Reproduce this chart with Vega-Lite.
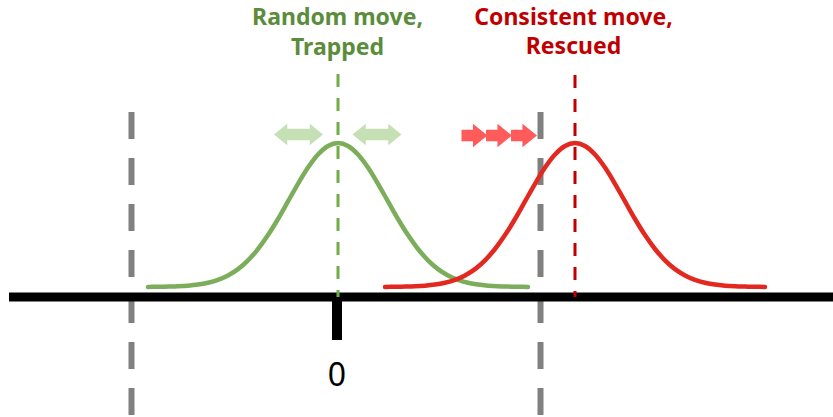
{
  "$schema": "https://vega.github.io/schema/vega-lite/v6.json",
  "autosize": {"type": "none"},
  "width": 833,
  "height": 417,
  "padding": 0,
  "background": "white",
  "config": {"view": {"stroke": null}},
  "resolve": {"scale": {"color": "independent"}},
  "datasets": {
    "bounds": [
      {"x": -2.065, "y": 1.85, "y2": -1.2},
      {"x": 2.025, "y": 1.85, "y2": -1.2}
    ],
    "curves": [
      {"s": "green", "x": -1.9, "y": 0.101}, {"s": "green", "x": -1.8, "y": 0.102}, {"s": "green", "x": -1.7, "y": 0.104}, {"s": "green", "x": -1.6, "y": 0.107}, {"s": "green", "x": -1.5, "y": 0.113},
      {"s": "green", "x": -1.4, "y": 0.124}, {"s": "green", "x": -1.3, "y": 0.143}, {"s": "green", "x": -1.2, "y": 0.172}, {"s": "green", "x": -1.1, "y": 0.216}, {"s": "green", "x": -1.0, "y": 0.279},
      {"s": "green", "x": -0.9, "y": 0.367}, {"s": "green", "x": -0.8, "y": 0.48}, {"s": "green", "x": -0.7, "y": 0.619}, {"s": "green", "x": -0.6, "y": 0.78}, {"s": "green", "x": -0.5, "y": 0.956},
      {"s": "green", "x": -0.4, "y": 1.132}, {"s": "green", "x": -0.3, "y": 1.294}, {"s": "green", "x": -0.2, "y": 1.425}, {"s": "green", "x": -0.1, "y": 1.51}, {"s": "green", "x": 0.0, "y": 1.54},
      {"s": "green", "x": 0.1, "y": 1.51}, {"s": "green", "x": 0.2, "y": 1.425}, {"s": "green", "x": 0.3, "y": 1.294}, {"s": "green", "x": 0.4, "y": 1.132}, {"s": "green", "x": 0.5, "y": 0.956},
      {"s": "green", "x": 0.6, "y": 0.78}, {"s": "green", "x": 0.7, "y": 0.619}, {"s": "green", "x": 0.8, "y": 0.48}, {"s": "green", "x": 0.9, "y": 0.367}, {"s": "green", "x": 1.0, "y": 0.279},
      {"s": "green", "x": 1.1, "y": 0.216}, {"s": "green", "x": 1.2, "y": 0.172}, {"s": "green", "x": 1.3, "y": 0.143}, {"s": "green", "x": 1.4, "y": 0.124}, {"s": "green", "x": 1.5, "y": 0.113},
      {"s": "green", "x": 1.6, "y": 0.107}, {"s": "green", "x": 1.7, "y": 0.104}, {"s": "green", "x": 1.8, "y": 0.102}, {"s": "green", "x": 1.9, "y": 0.101},
      {"s": "red", "x": 0.47, "y": 0.101}, {"s": "red", "x": 0.57, "y": 0.102}, {"s": "red", "x": 0.67, "y": 0.104}, {"s": "red", "x": 0.77, "y": 0.107}, {"s": "red", "x": 0.87, "y": 0.113},
      {"s": "red", "x": 0.97, "y": 0.124}, {"s": "red", "x": 1.07, "y": 0.143}, {"s": "red", "x": 1.17, "y": 0.172}, {"s": "red", "x": 1.27, "y": 0.216}, {"s": "red", "x": 1.37, "y": 0.279},
      {"s": "red", "x": 1.47, "y": 0.367}, {"s": "red", "x": 1.57, "y": 0.48}, {"s": "red", "x": 1.67, "y": 0.619}, {"s": "red", "x": 1.77, "y": 0.78}, {"s": "red", "x": 1.87, "y": 0.956},
      {"s": "red", "x": 1.97, "y": 1.132}, {"s": "red", "x": 2.07, "y": 1.294}, {"s": "red", "x": 2.17, "y": 1.425}, {"s": "red", "x": 2.27, "y": 1.51}, {"s": "red", "x": 2.37, "y": 1.54},
      {"s": "red", "x": 2.47, "y": 1.51}, {"s": "red", "x": 2.57, "y": 1.425}, {"s": "red", "x": 2.67, "y": 1.294}, {"s": "red", "x": 2.77, "y": 1.132}, {"s": "red", "x": 2.87, "y": 0.956},
      {"s": "red", "x": 2.97, "y": 0.78}, {"s": "red", "x": 3.07, "y": 0.619}, {"s": "red", "x": 3.17, "y": 0.48}, {"s": "red", "x": 3.27, "y": 0.367}, {"s": "red", "x": 3.37, "y": 0.279},
      {"s": "red", "x": 3.47, "y": 0.216}, {"s": "red", "x": 3.57, "y": 0.172}, {"s": "red", "x": 3.67, "y": 0.143}, {"s": "red", "x": 3.77, "y": 0.124}, {"s": "red", "x": 3.87, "y": 0.113},
      {"s": "red", "x": 3.97, "y": 0.107}, {"s": "red", "x": 4.07, "y": 0.104}, {"s": "red", "x": 4.17, "y": 0.102}, {"s": "red", "x": 4.27, "y": 0.101}
    ],
    "axisline": [{"x": -3.29, "x2": 4.95, "y": 0.0}],
    "tick": [{"x": -0.01, "y": 0.0, "y2": -0.43}],
    "zero": [{"x": -0.01, "y": -0.89, "label": "0"}],
    "centers": [
      {"s": "green", "x": 0.0, "y": 2.23, "y2": 0.0},
      {"s": "red", "x": 2.37, "y": 2.22, "y2": 0.0}
    ],
    "greenArrows": [{"x": -0.395, "y": 1.625}, {"x": 0.39, "y": 1.625}],
    "redArrows": [{"x": 1.365, "y": 1.615}, {"x": 1.61, "y": 1.615}, {"x": 1.86, "y": 1.615}],
    "titles": [
      {"s": "green", "x": -0.005, "y": 2.72, "label": "Random move,"},
      {"s": "green", "x": -0.005, "y": 2.42, "label": "Trapped"},
      {"s": "red", "x": 2.355, "y": 2.72, "label": "Consistent move,"},
      {"s": "red", "x": 2.355, "y": 2.43, "label": "Rescued"}
    ]
  },
  "encoding": {
    "x": {"field": "x", "type": "quantitative", "scale": {"domain": [-3.38, 4.95], "nice": false, "zero": false}, "axis": null},
    "y": {"field": "y", "type": "quantitative", "scale": {"domain": [-1.2, 2.97], "nice": false, "zero": false}, "axis": null}
  },
  "layer": [
    {
      "data": {"name": "bounds"},
      "mark": {"type": "rule", "color": "#808080", "strokeWidth": 6, "strokeDash": [27, 19]},
      "encoding": {"y2": {"field": "y2"}}
    },
    {
      "data": {"name": "curves"},
      "mark": {"type": "line", "interpolate": "monotone", "strokeWidth": 4.5, "strokeCap": "round"},
      "encoding": {
        "color": {"field": "s", "type": "nominal", "scale": {"domain": ["green", "red"], "range": ["#7BAD5A", "#E2281F"]}, "legend": null}
      }
    },
    {
      "data": {"name": "axisline"},
      "mark": {"type": "rule", "color": "#000000", "strokeWidth": 9},
      "encoding": {"x2": {"field": "x2"}}
    },
    {
      "data": {"name": "tick"},
      "mark": {"type": "rule", "color": "#000000", "strokeWidth": 10},
      "encoding": {"y2": {"field": "y2"}}
    },
    {
      "data": {"name": "centers"},
      "mark": {"type": "rule", "strokeWidth": 3, "strokeDash": [13, 11]},
      "encoding": {
        "y2": {"field": "y2"},
        "color": {"field": "s", "type": "nominal", "scale": {"domain": ["green", "red"], "range": ["#70AD47", "#C00000"]}, "legend": null}
      }
    },
    {
      "data": {"name": "greenArrows"},
      "mark": {"type": "point", "filled": true, "opacity": 1, "color": "#C5E0B4", "size": 2401,
        "shape": "M-1,0 L-0.46,-0.44 L-0.46,-0.23 L0.46,-0.23 L0.46,-0.44 L1,0 L0.46,0.44 L0.46,0.23 L-0.46,0.23 L-0.46,0.44 Z"}
    },
    {
      "data": {"name": "redArrows"},
      "mark": {"type": "point", "filled": true, "opacity": 1, "color": "#FF5B5B", "size": 676,
        "shape": "M-1,-0.44 L-0.12,-0.44 L-0.12,-0.9 L1,0 L-0.12,0.9 L-0.12,0.44 L-1,0.44 Z"}
    },
    {
      "data": {"name": "zero"},
      "mark": {"type": "text", "font": "Noto Sans", "fontSize": 32, "color": "#000000", "align": "center", "baseline": "alphabetic"},
      "encoding": {"text": {"field": "label"}}
    },
    {
      "data": {"name": "titles"},
      "mark": {"type": "text", "font": "Noto Sans", "fontSize": 23, "fontWeight": "bold", "align": "center", "baseline": "alphabetic"},
      "encoding": {
        "text": {"field": "label"},
        "color": {"field": "s", "type": "nominal", "scale": {"domain": ["green", "red"], "range": ["#5B8C3C", "#C00000"]}, "legend": null}
      }
    }
  ]
}
